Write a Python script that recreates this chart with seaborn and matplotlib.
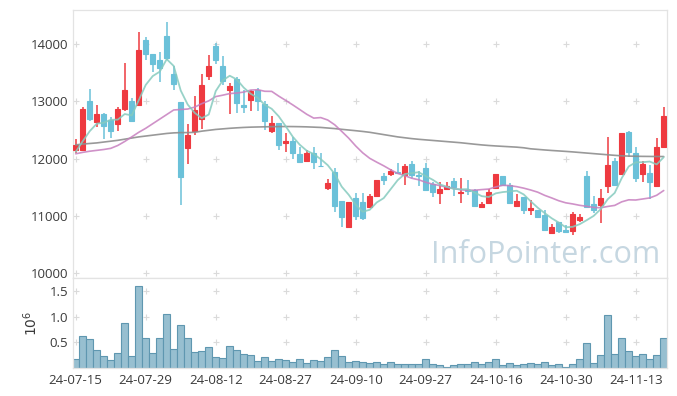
import numpy as np
import pandas as pd
import matplotlib
matplotlib.use("Agg")
import matplotlib.pyplot as plt
import seaborn as sns

# ---------------- data ----------------
opens = [12160, 12150, 13010, 12640, 12780, 12670, 12600, 12875, 13010, 12945,
         14075, 13830, 13715, 14140, 13480, 12990, 12190, 12475, 12695, 13450,
         13960, 13620, 13190, 13395, 12940, 13015, 13200, 12955, 12490, 12620,
         12280, 12310, 12085, 11965, 12095, 11880, 11495, 11775, 11265, 10815,
         11310, 11240, 11165, 11355, 11690, 11730, 11765, 11715, 11910, 11720,
         11835, 11550, 11400, 11470, 11615, 11405, 11445, 11445, 11165, 11235,
         11485, 11700, 11545, 11175, 11325, 11105, 11105, 11020, 10700, 10890,
         10755, 10745, 10930, 11700, 11205, 11195, 11515, 11960, 11730, 12465,
         12095, 11735, 11755, 11525, 12200]
highs = [12335, 12900, 13220, 12930, 12790, 12735, 12910, 13670, 13060, 14210,
         14120, 13830, 13865, 14380, 13615, 12990, 12600, 13100, 13475, 13815,
         14015, 13795, 13320, 13425, 13200, 13200, 13230, 13000, 12750, 12620,
         12445, 12385, 12200, 12155, 12200, 12095, 11640, 11835, 11265, 11240,
         11395, 11395, 11385, 11630, 11745, 11820, 11920, 11910, 11965, 11790,
         11920, 11600, 11585, 11600, 11660, 11660, 11620, 11470, 11250, 11470,
         11740, 11700, 11570, 11380, 11330, 11280, 11105, 11105, 10860, 10900,
         10845, 11075, 11030, 11785, 11340, 11465, 12375, 12010, 12455, 12480,
         12210, 11960, 11890, 12360, 12910]
lows = [12100, 12130, 12650, 12550, 12350, 12360, 12480, 12830, 12650, 12920,
        13730, 13515, 13340, 13730, 13205, 11190, 11910, 12415, 12515, 13365,
        13655, 13290, 12785, 12805, 12805, 12840, 12840, 12505, 12455, 12155,
        12125, 12000, 11950, 11965, 11815, 11865, 11455, 11075, 10800, 10800,
        10930, 10930, 11150, 11355, 11545, 11700, 11745, 11545, 11660, 11515,
        11430, 11330, 11210, 11460, 11350, 11225, 11370, 11175, 11135, 11225,
        11480, 11530, 11235, 11155, 11035, 11020, 10960, 10755, 10700, 10700,
        10700, 10670, 10900, 11155, 11050, 10885, 11400, 11530, 11720, 12035,
        11600, 11600, 11295, 11520, 12200]
closes = [12230, 12860, 12700, 12780, 12570, 12480, 12875, 13190, 12660, 13890,
          13820, 13645, 13575, 13750, 13295, 11680, 12420, 12850, 13290, 13610,
          13725, 13350, 13260, 12970, 12895, 13185, 13000, 12650, 12620, 12240,
          12315, 12095, 11950, 12095, 11950, 11870, 11570, 11180, 10990, 11240,
          11000, 10960, 11350, 11630, 11620, 11785, 11745, 11875, 11715, 11700,
          11445, 11425, 11475, 11515, 11500, 11415, 11435, 11175, 11205, 11425,
          11735, 11545, 11235, 11265, 11100, 11135, 10990, 10760, 10815, 10730,
          10720, 11030, 10990, 11165, 11105, 11310, 11890, 11545, 12450, 12125,
          11670, 11905, 11600, 12200, 12750]
volumes = [0.169, 0.617, 0.558, 0.344, 0.227, 0.149, 0.286, 0.870, 0.227, 1.591,
           0.578, 0.286, 0.578, 1.045, 0.364, 0.831, 0.578, 0.305, 0.331, 0.403,
           0.208, 0.188, 0.422, 0.344, 0.266, 0.247, 0.130, 0.208, 0.130, 0.169,
           0.149, 0.110, 0.169, 0.091, 0.149, 0.130, 0.208, 0.344, 0.227, 0.110,
           0.130, 0.110, 0.091, 0.110, 0.071, 0.110, 0.071, 0.071, 0.071, 0.071,
           0.169, 0.071, 0.052, 0.026, 0.052, 0.071, 0.071, 0.110, 0.071, 0.110,
           0.169, 0.052, 0.091, 0.052, 0.071, 0.091, 0.071, 0.110, 0.052, 0.071,
           0.026, 0.071, 0.169, 0.481, 0.091, 0.247, 1.026, 0.266, 0.578, 0.325,
           0.227, 0.266, 0.169, 0.247, 0.578]
# moving-average values before enough in-window closes exist
ma5_head = [12120, 12305, 12480, 12610]
ma20_head = [12085, 12110, 12130, 12145, 12160, 12180, 12230, 12300, 12380, 12460,
             12530, 12610, 12690, 12770, 12850, 12858, 12866, 12900, 12960]
# long moving average (grey)
ma_long = [12240, 12255, 12265, 12275, 12290, 12305, 12320, 12340, 12360, 12380,
           12395, 12410, 12425, 12440, 12450, 12455, 12455, 12460, 12480, 12495,
           12510, 12520, 12530, 12538, 12545, 12550, 12553, 12556, 12558, 12560,
           12561, 12560, 12558, 12555, 12550, 12545, 12535, 12525, 12512, 12500,
           12488, 12475, 12460, 12440, 12420, 12400, 12380, 12365, 12350, 12338,
           12328, 12318, 12308, 12298, 12288, 12278, 12265, 12252, 12240, 12230,
           12222, 12215, 12208, 12201, 12190, 12172, 12162, 12152, 12143, 12135,
           12127, 12118, 12108, 12098, 12088, 12078, 12068, 12058, 12050, 12045,
           12042, 12040, 12039, 12038, 12037]
date_labels = ["24-07-15", "24-07-29", "24-08-12", "24-08-27", "24-09-10",
               "24-09-27", "24-10-16", "24-10-30", "24-11-13"]
price_ticks = [10000, 11000, 12000, 13000, 14000]
vol_ticks = [0.5, 1.0, 1.5]

# ---------------- frame ----------------
n = len(closes)
df = pd.DataFrame({"i": np.arange(n), "open": opens, "high": highs, "low": lows,
                   "close": closes, "volume": volumes, "ma_long": ma_long})
ma5 = df["close"].rolling(5).mean()
ma5.iloc[:len(ma5_head)] = ma5_head
ma20 = df["close"].rolling(20).mean()
ma20.iloc[:len(ma20_head)] = ma20_head
df["ma5"] = ma5
df["ma20"] = ma20

sns.set_theme(style="white")
plt.rcParams["font.family"] = ["Open Sans", "DejaVu Sans"]

UP = "#ee3a40"
DOWN = "#6bc1d9"
SPINE = "#e3e3e3"
TXT = "#3a3a3a"

fig = plt.figure(figsize=(6.77, 3.96), dpi=100)
ax = fig.add_axes([73/677, 1-278/396, 594/677, 268/396])
axv = fig.add_axes([73/677, 1-368/396, 594/677, 90/396], sharex=ax)

up = df["close"] >= df["open"]
colors = np.where(up, UP, DOWN)
body_lo = np.minimum(df["open"], df["close"])
body_h = np.abs(df["close"] - df["open"])

ax.vlines(df["i"], df["low"], df["high"], colors=colors, linewidth=1.1, zorder=2)
ax.bar(df["i"], body_h, bottom=body_lo, width=0.72, color=colors,
       edgecolor=colors, linewidth=0.8, zorder=3)

sns.lineplot(data=df, x="i", y="ma_long", ax=ax, color="#8e8e8e", linewidth=1.2,
             alpha=0.9, zorder=4)
sns.lineplot(data=df, x="i", y="ma20", ax=ax, color="#c77fbf", linewidth=1.2,
             alpha=0.85, zorder=4)
sns.lineplot(data=df, x="i", y="ma5", ax=ax, color="#86cbbf", linewidth=1.3,
             alpha=0.85, zorder=4)

# volume
axv.bar(df["i"], df["volume"], width=1.0, color="#97bfd0", edgecolor="#5f97b0",
        linewidth=0.8, zorder=2)

xt = list(range(0, 10 * len(date_labels), 10))
ax.set_xlim(-0.39, 84.47)
ax.set_ylim(9918, 14594)
axv.set_ylim(0, 1.75)

ax.set_yticks(price_ticks)
ax.set_yticklabels([str(t) for t in price_ticks])
axv.set_yticks(vol_ticks)
axv.set_yticklabels(["0.5", "1.0", "1.5"])
axv.set_xticks(xt)
axv.set_xticklabels(date_labels)
ax.tick_params(axis="x", labelbottom=False, length=0)
for a in (ax, axv):
    a.set_xlabel("")
    a.set_ylabel("")
    a.tick_params(axis="y", labelsize=9.5, labelcolor=TXT, length=3, width=0.8,
                  color=SPINE, pad=2, direction="inout")
    a.grid(False)
    for s in a.spines.values():
        s.set_color(SPINE)
        s.set_linewidth(0.9)
axv.tick_params(axis="x", labelsize=9.5, labelcolor=TXT, length=0, pad=4)
axv.set_ylabel(r"$10^6$", fontsize=10, color=TXT, labelpad=6)

# '+' marks at grid intersections
gx, gy = np.meshgrid(xt, price_ticks)
ax.scatter(gx.ravel(), gy.ravel(), marker="+", s=16, color="#dadada",
           linewidths=0.8, zorder=1)
gx, gy = np.meshgrid(xt, vol_ticks)
axv.scatter(gx.ravel(), gy.ravel(), marker="+", s=16, color="#dadada",
            linewidths=0.8, zorder=1)

ax.text(0.988, 0.085, "InfoPointer.com", transform=ax.transAxes, ha="right",
        va="center", fontsize=22, color="#c6d7e1", zorder=0)

fig.savefig("out.png", dpi=100)
